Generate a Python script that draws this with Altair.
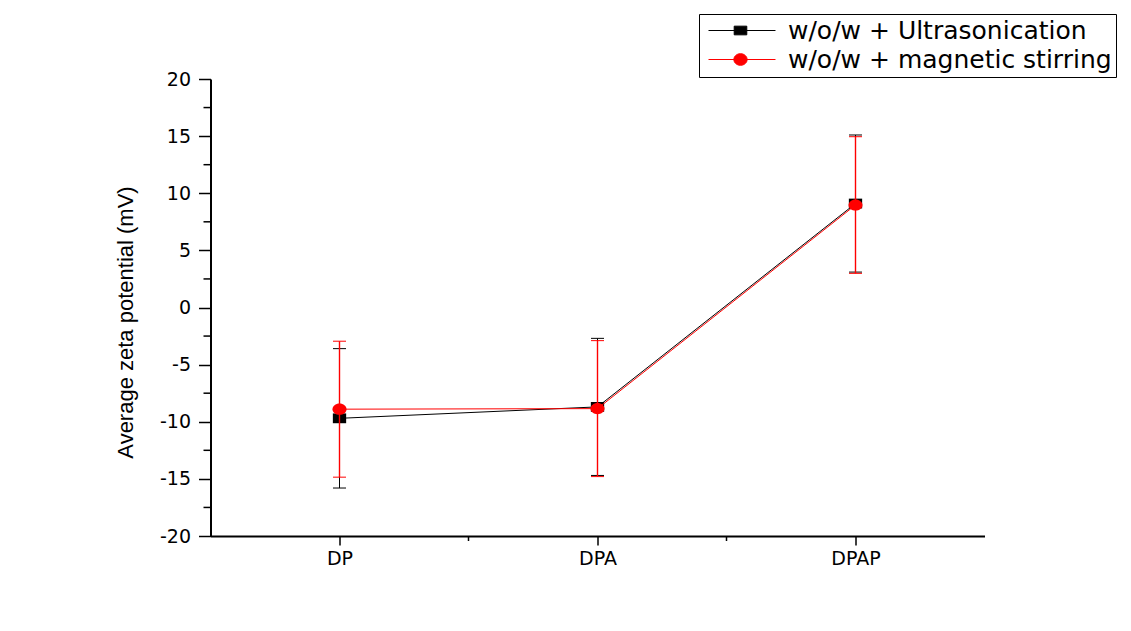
import json
import altair as alt
import pandas as pd

# ---------------- data ----------------
categories = ["DP", "DPA", "DPAP"]
series_names = ["w/o/w + Ultrasonication", "w/o/w + magnetic stirring"]
ultra_mean = [-9.7, -8.7, 9.1]
ultra_err = [6.1, 6.0, 6.0]
magnetic_mean = [-8.9, -8.85, 8.97]
magnetic_err = [5.95, 5.95, 5.98]
series_colors = ["#000000", "#ff0000"]
errbar_widths = [1, 1.4]
y_ticks = [-20, -15, -10, -5, 0, 5, 10, 15, 20]
y_minor = [-17.5, -12.5, -7.5, -2.5, 2.5, 7.5, 12.5, 17.5]
x_ticks = [1, 2, 3]
x_minor = [1.5, 2.5]

# marker shapes (slightly wide, as in the original)
square_path = "M-0.95,-0.7L0.95,-0.7L0.95,0.7L-0.95,0.7Z"
ellipse_path = "M-1,0A1,0.8 0 1,0 1,0A1,0.8 0 1,0 -1,0Z"
# legend symbols: line + marker
leg_square = "M-1,0L8.57,0M2.67,-0.62L4.47,-0.62L4.47,0.62L2.67,0.62Z"
leg_circle = "M-1,0L8.57,0M2.62,0A0.95,0.83 0 1,0 4.52,0A0.95,0.83 0 1,0 2.62,0Z"

W, H = 774, 457
xscale = alt.Scale(domain=[0.5, 3.5], nice=False, zero=False)
yscale = alt.Scale(domain=[-20, 20], nice=False, zero=False)

label_expr = json.dumps(categories) + "[datum.value - 1]"

def series_df(means, errs, name):
    return pd.DataFrame({
        "x": [i + 1 for i in range(len(categories))],
        "cat": categories,
        "y": means,
        "lo": [m - e for m, e in zip(means, errs)],
        "hi": [m + e for m, e in zip(means, errs)],
        "series": name,
    })

dfs = [series_df(ultra_mean, ultra_err, series_names[0]),
       series_df(magnetic_mean, magnetic_err, series_names[1])]
shapes = [square_path, ellipse_path]

x_axis = alt.Axis(values=x_ticks, labelExpr=label_expr, title=None, grid=False,
                  tickSize=9, tickWidth=1.5, tickColor="black",
                  domainColor="black", domainWidth=2,
                  labelFont="DejaVu Sans", labelFontSize=19, labelColor="black",
                  labelPadding=4)
y_axis = alt.Axis(values=y_ticks, labelExpr="'' + datum.value",
                  title="Average zeta potential (mV)", grid=False,
                  tickSize=12, tickWidth=1.5, tickColor="black",
                  domainColor="black", domainWidth=2,
                  labelFont="DejaVu Sans", labelFontSize=19, labelColor="black",
                  labelPadding=8,
                  titleFont="Liberation Sans", titleFontSize=22, titleFontWeight="normal",
                  titleColor="black", titleX=-78, titleY=243, titleBaseline="alphabetic",
                  titleAngle=270, titleLimit=1000)

def X(field):
    return alt.X(field, scale=xscale, axis=x_axis)

def Y(field):
    return alt.Y(field, scale=yscale, axis=y_axis)

layers = []

# minor ticks
ymin_df = pd.DataFrame({"v": y_minor})
xmin_df = pd.DataFrame({"v": x_minor})
layers.append(alt.Chart(ymin_df).mark_rule(color="black", strokeWidth=1.5).encode(
    y=Y("v:Q"), x=alt.value(-7), x2=alt.value(0)))
layers.append(alt.Chart(xmin_df).mark_rule(color="black", strokeWidth=1.5).encode(
    x=X("v:Q"), y=alt.value(H), y2=alt.value(H + 5)))

for df, col, shp, ew in zip(dfs, series_colors, shapes, errbar_widths):
    base = alt.Chart(df)
    layers.append(base.mark_rule(color=col, strokeWidth=ew).encode(
        x=X("x:Q"), y=Y("lo:Q"), y2="hi:Q"))
    for end in ["lo", "hi"]:
        layers.append(base.mark_tick(color=col, orient="horizontal", size=13,
                                     thickness=1, opacity=1).encode(
            x=X("x:Q"), y=Y(f"{end}:Q")))
    layers.append(base.mark_line(color=col, strokeWidth=1).encode(
        x=X("x:Q"), y=Y("y:Q")))
    layers.append(base.mark_point(shape=shp, size=196, filled=True, color=col,
                                  opacity=1).encode(
        x=X("x:Q"), y=Y("y:Q")))

# legend-only layer
leg = alt.Legend(title=None, orient="none", legendX=488.5, legendY=-65,
                 strokeColor="black", fillColor="white", padding=4,
                 symbolSize=196, symbolStrokeWidth=1, symbolOpacity=1,
                 labelFont="DejaVu Sans", labelFontSize=25, labelColor="black",
                 labelOffset=60, rowPadding=3, labelLimit=0)
leg_df = pd.DataFrame({"series": series_names})
layers.append(alt.Chart(leg_df).transform_filter("false").mark_point(
    filled=True, opacity=1, size=196).encode(
    fill=alt.Fill("series:N", scale=alt.Scale(domain=series_names, range=series_colors), legend=leg),
    stroke=alt.Stroke("series:N", scale=alt.Scale(domain=series_names, range=series_colors), legend=leg),
    shape=alt.Shape("series:N", scale=alt.Scale(domain=series_names, range=[leg_square, leg_circle]), legend=leg),
))

chart = alt.layer(*layers).properties(
    width=W, height=H,
    autosize=alt.AutoSizeParams(type="none"),
    padding={"left": 202.5, "top": 71, "right": 138.5, "bottom": 87},
    background="white",
).configure_view(stroke=None)

chart.save("out.html", embed_options={"renderer": "svg", "actions": False})
